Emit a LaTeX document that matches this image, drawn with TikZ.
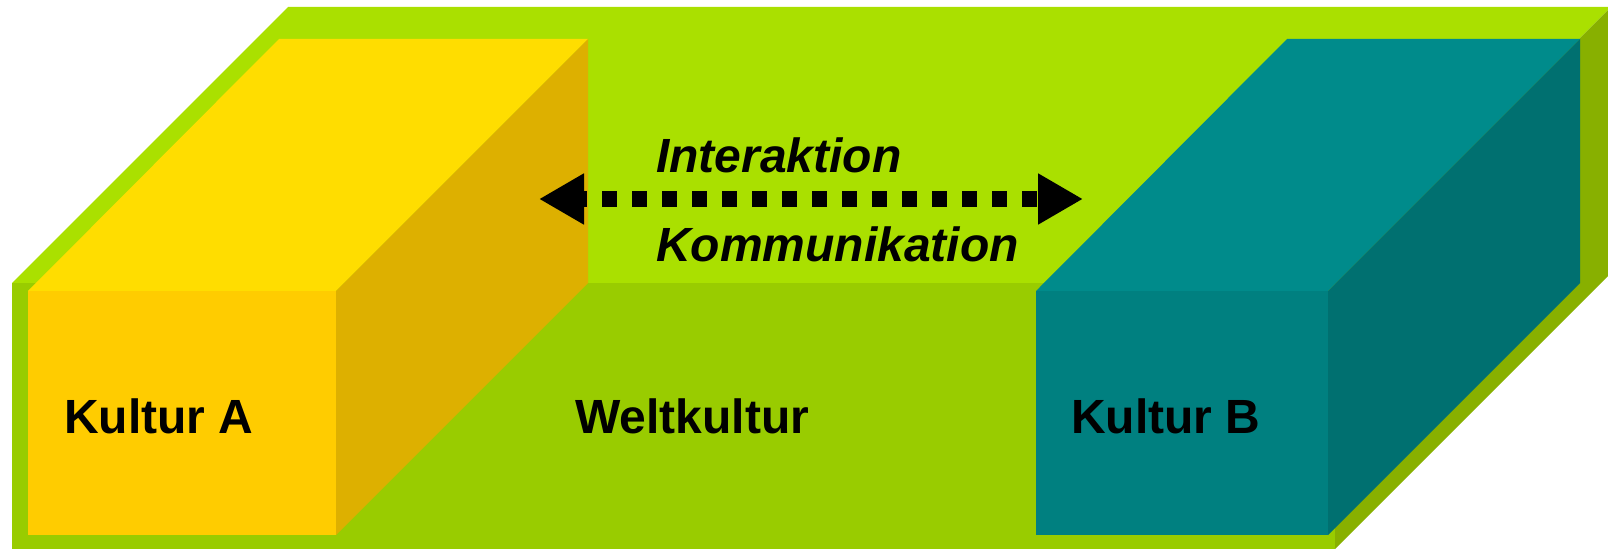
\documentclass[tikz,border=0pt]{standalone}
\usepackage{fontspec}
\setmainfont{Liberation Sans}
\usepackage{tikz}
\usetikzlibrary{arrows.meta,positioning,calc}

\definecolor{gtop}{HTML}{AAE000}
\definecolor{gfront}{HTML}{99CC00}
\definecolor{gside}{HTML}{88B000}
\definecolor{ytop}{HTML}{FFDD00}
\definecolor{yfront}{HTML}{FFCC00}
\definecolor{yside}{HTML}{DDB000}
\definecolor{ttop}{HTML}{008B8B}
\definecolor{tfront}{HTML}{008080}
\definecolor{tside}{HTML}{007070}

\begin{document}
\begin{tikzpicture}[x=1bp,y=-1bp,
  lab/.style={inner sep=0pt,anchor=base west,font=\fontsize{48bp}{56bp}\selectfont\bfseries},
  ilab/.style={lab,font=\fontsize{48bp}{56bp}\selectfont\bfseries\itshape},
  link/.style={{Triangle[length=45bp,width=48bp]}-{Triangle[length=45bp,width=48bp]},
    line width=16bp,dash pattern=on 15bp off 15bp,dash phase=9bp}]
\useasboundingbox[fill=white] (0,0) rectangle (1608,549);
% ---------- Weltkultur slab ----------
\fill[gtop] (12,283) -- (288,7) -- (1611,7) -- (1335,283) -- cycle;
\fill[gfront] (12,283) rectangle (1335,549);
\fill[gside] (1335,283) -- (1611,7) -- (1611,273) -- (1335,549) -- cycle;
% ---------- Kultur A cube ----------
\fill[ytop] (28,291) -- (279,39) -- (588,39) -- (336,291) -- cycle;
\fill[yfront] (28,291) rectangle (336,535);
\fill[yside] (336,291) -- (588,39) -- (588,283) -- (336,535) -- cycle;
% ---------- Kultur B cube ----------
\fill[ttop] (1036,291) -- (1287,39) -- (1580,39) -- (1328,291) -- cycle;
\fill[tfront] (1036,291) rectangle (1328,535);
\fill[tside] (1328,291) -- (1580,39) -- (1580,283) -- (1328,535) -- cycle;
% ---------- labels ----------
\node[lab] (kulturA) at (64,433) {Kultur A};
\node[lab] (welt) at (575,433) {Weltkultur};
\node[lab] (kulturB) at (1071,433) {Kultur B};
\node[ilab] (interakt) at (656,173) {Interaktion};
\node[ilab] (kommun) at (656,262) {Kommunikation};
% ---------- double arrow ----------
\coordinate (iL) at (539,199);
\coordinate (iR) at (1083,199);
\draw[link] (iL) -- (iR);
\end{tikzpicture}
\end{document}
